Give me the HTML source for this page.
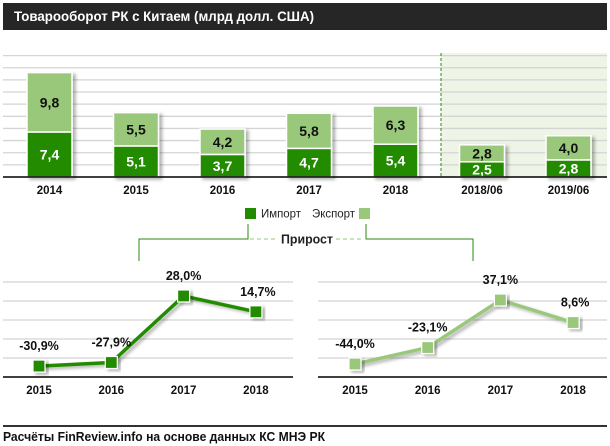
<!DOCTYPE html>
<html><head><meta charset="utf-8">
<style>
html,body{margin:0;padding:0;background:#fff;}
svg{display:block;font-family:"Liberation Sans",Arial,sans-serif;}
</style></head>
<body>
<svg id="c" width="610" height="446" viewBox="0 0 610 446" xmlns="http://www.w3.org/2000/svg">
<defs>
<filter id="sh" x="-20%" y="-20%" width="150%" height="150%"><feDropShadow dx="3" dy="2" stdDeviation="1.5" flood-color="#000" flood-opacity="0.3"/></filter>
</defs>
<rect x="3" y="3" width="604" height="27" fill="#262626"/>
<text x="14" y="21" fill="#fff" font-size="14" font-weight="bold" textLength="300" lengthAdjust="spacingAndGlyphs">Товарооборот РК с Китаем (млрд долл. США)</text>
<rect x="441" y="53" width="166" height="124" fill="#eef5e6"/>
<g id="grid"></g>
<line x1="441" y1="53" x2="441" y2="177" stroke="#2a8a10" stroke-dasharray="3,2"/>
<g id="bars"></g>
<line x1="3" y1="177" x2="607" y2="177" stroke="#000" stroke-width="1.5"/>
<g id="xl"></g>
<rect x="245" y="208" width="11" height="11" fill="#228b00"/>
<text x="261" y="217.5" font-size="12" fill="#222" textLength="40" lengthAdjust="spacingAndGlyphs">Импорт</text>
<text x="312" y="217.5" font-size="12" fill="#222" textLength="43" lengthAdjust="spacingAndGlyphs">Экспорт</text>
<rect x="359" y="208" width="11" height="11" fill="#99c87a"/>
<polyline points="248,224 248,239 139,239 139,261" fill="none" stroke="#2a8a10" stroke-width="1"/>
<polyline points="366,224 366,239 473,239 473,261" fill="none" stroke="#2a8a10" stroke-width="1"/>
<line x1="250" y1="239" x2="276" y2="239" stroke="#99c87a" stroke-dasharray="4,3"/>
<line x1="336" y1="239" x2="364" y2="239" stroke="#99c87a" stroke-dasharray="4,3"/>
<text x="307" y="243.5" font-size="13" font-weight="bold" text-anchor="middle" fill="#222" textLength="52" lengthAdjust="spacingAndGlyphs">Прирост</text>
<g id="lines"></g>
<line x1="3" y1="426" x2="607" y2="426" stroke="#333" stroke-width="2"/>
<text x="3" y="441" font-size="12.5" font-weight="bold" fill="#111" textLength="322" lengthAdjust="spacingAndGlyphs">Расчёты FinReview.info  на основе данных КС МНЭ РК</text>
</svg>
<script>
const categories = ["2014","2015","2016","2017","2018","2018/06","2019/06"];
const importVals = [7.4,5.1,3.7,4.7,5.4,2.5,2.8];
const exportVals = [9.8,5.5,4.2,5.8,6.3,2.8,4.0];
const growthYears = ["2015","2016","2017","2018"];
const importGrowth = [-30.9,-27.9,28.0,14.7];
const exportGrowth = [-44.0,-23.1,37.1,8.6];
const NS="http://www.w3.org/2000/svg";
function mk(p,t,a){const e=document.createElementNS(NS,t);for(const k in a)e.setAttribute(k,a[k]);p.appendChild(e);return e;}
const fmt=v=>v.toFixed(1).replace('.',',');
const base=177, k=6.07;
const yB=v=>base-v*k;
const xB=i=>49.5+i*86.5;
const grid=document.getElementById('grid');
for(let g=2;g<=20;g+=2){
  const l=mk(grid,'line',{x1:3,x2:607,y1:yB(g),y2:yB(g),stroke:'#d4d4d4','stroke-width':1.3});
  
  
}
const bars=document.getElementById('bars'), xl=document.getElementById('xl');
categories.forEach((c,i)=>{
  const x=xB(i)-22.5,w=45;
  const yi=yB(importVals[i]), ye=yB(importVals[i]+exportVals[i]);
  const g=mk(bars,'g',{filter:'url(#sh)'});
  
  
  const r1=mk(g,'rect',{x:x,y:ye,width:w,height:yi-ye,fill:'#99c87a',stroke:'#fff','stroke-width':1.5});
  
  
  const r2=mk(g,'rect',{x:x,y:yi,width:w,height:base-yi,fill:'#228b00',stroke:'#fff','stroke-width':1.5});
  
  
  const t1=mk(bars,'text',{x:xB(i),y:(ye+yi)/2+5,'font-size':14,'font-weight':'bold','text-anchor':'middle',fill:'#111'});
  t1.textContent=fmt(exportVals[i]);
  
  
  const t2=mk(bars,'text',{x:xB(i),y:(yi+base)/2+5,'font-size':14,'font-weight':'bold','text-anchor':'middle',fill:'#fff'});
  t2.textContent=fmt(importVals[i]);
  
  
  const t3=mk(xl,'text',{x:xB(i),y:194,'font-size':11.5,'font-weight':'bold','text-anchor':'middle',fill:'#111'});
  t3.textContent=c;
  
  
});
const lines=document.getElementById('lines');
function growth(vals,x0,x1,xs,sc,color,name){
  const zero=329.3;
  const y=v=>zero-v*sc;
  const x=i=>xs[0]+i*xs[1];
  [282,301,320,339,358].forEach(gy=>{
    const l=mk(lines,'line',{x1:x0,x2:x1,y1:gy,y2:gy,stroke:'#d4d4d4','stroke-width':1.3});
    
    
  });
  const bl=mk(lines,'line',{x1:x0,x2:x1,y1:377,y2:377,stroke:'#000','stroke-width':1.5});
  
  
  const pl=mk(lines,'polyline',{points:vals.map((v,i)=>x(i)+','+y(v)).join(' '),fill:'none',stroke:color,'stroke-width':3.5,filter:'url(#sh)'});
  
  
  vals.forEach((v,i)=>{
    const r=mk(lines,'rect',{x:x(i)-6,y:y(v)-6,width:12,height:12,fill:color,stroke:'#fff','stroke-width':1.2,filter:'url(#sh)'});
    
    
    const t=mk(lines,'text',{x:x(i)+(i==3?2:0),y:y(v)-16,'font-size':12.5,'font-weight':'bold','text-anchor':'middle',fill:'#111'});
    t.textContent=fmt(v)+'%';
    
    
    const tx=mk(lines,'text',{x:x(i),y:394,'font-size':11.5,'font-weight':'bold','text-anchor':'middle',fill:'#111'});
    tx.textContent=growthYears[i];
    
    
  });
}
growth(importGrowth,3,293,[39,72.3],1.19,'#228b00','import-growth');
growth(exportGrowth,318,607,[355,72.7],0.789,'#99c87a','export-growth');
</script>
</body></html>
